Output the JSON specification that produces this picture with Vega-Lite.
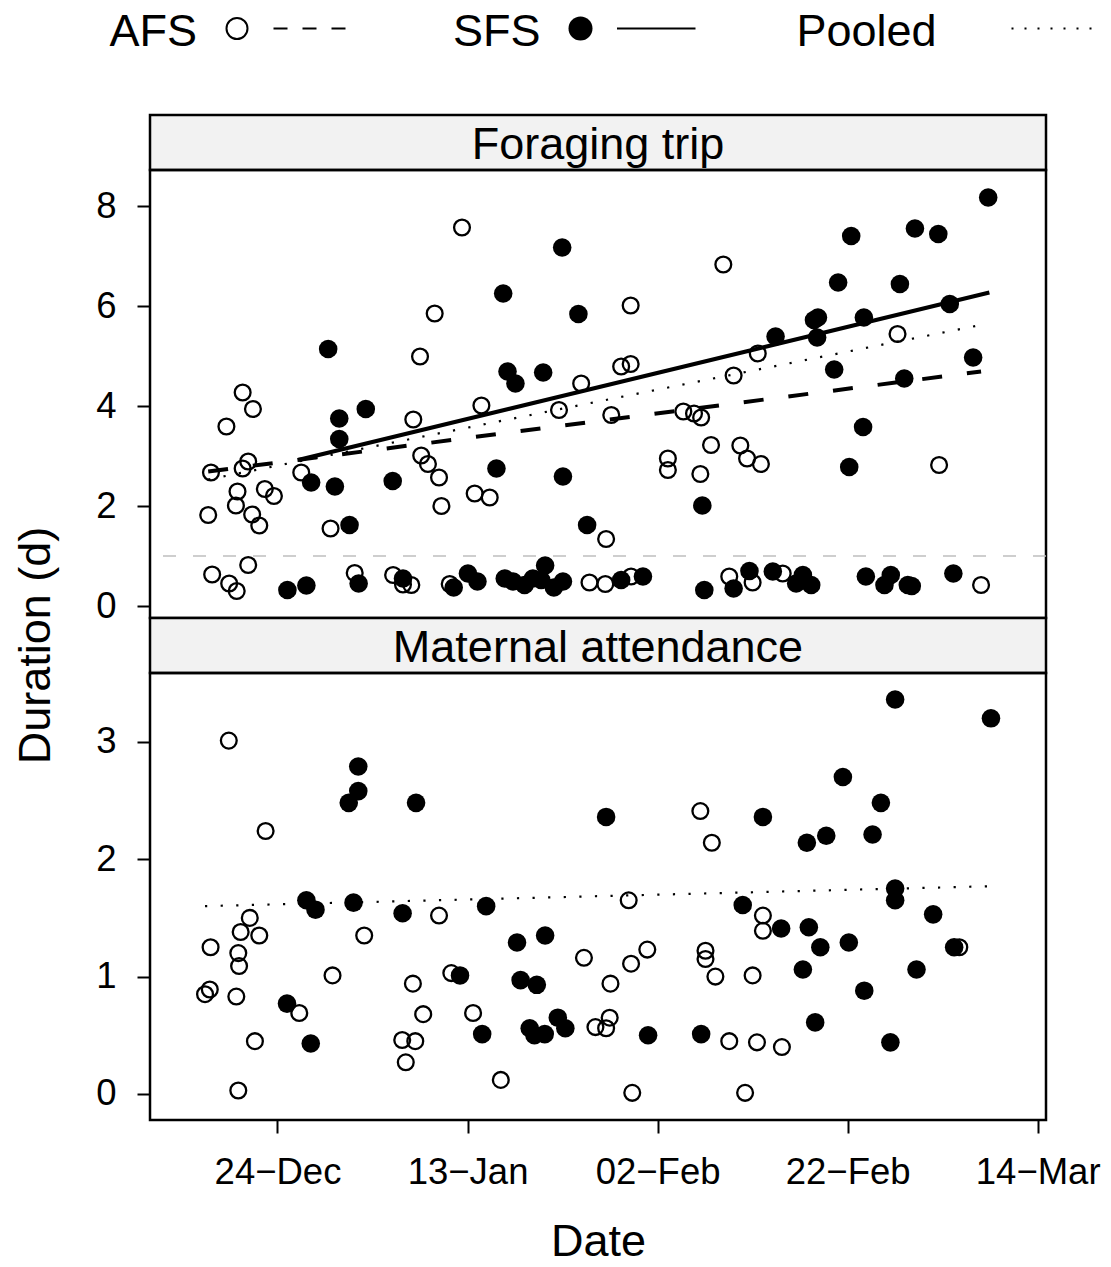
{
  "$schema": "https://vega.github.io/schema/vega-lite/v6.json",
  "padding": {"left": 12, "top": 0, "right": 5, "bottom": 0},
  "background": "white",
  "config": {
    "font": "Liberation Sans",
    "view": {"stroke": "black", "strokeWidth": 2.5},
    "axis": {"domain": false, "grid": false, "tickColor": "black", "tickWidth": 2, "tickSize": 13, "labelColor": "black", "labelFont": "Liberation Sans", "labelFontSize": 36.5, "labelPadding": 21, "labelFlush": false, "labelOverlap": false, "titleFont": "Liberation Sans", "titleFontSize": 45, "titleFontWeight": "normal", "titleColor": "black"},
    "text": {"font": "Liberation Sans", "fontSize": 45, "color": "black"}
  },
  "datasets": {
    "legend": [{"label": "AFS"}, {"label": "SFS"}, {"label": "Pooled"}],
    "panels": [{"panel": "Foraging trip"}, {"panel": "Maternal attendance"}],
    "threshold": [{"threshold": 1}],
    "lines": [
      {"panel": "Foraging trip", "group": "AFS", "date": "2010-12-16T17:00", "duration": 2.69},
      {"panel": "Foraging trip", "group": "AFS", "date": "2011-03-08T01:00", "duration": 4.69},
      {"panel": "Foraging trip", "group": "SFS", "date": "2010-12-26T04:00", "duration": 2.92},
      {"panel": "Foraging trip", "group": "SFS", "date": "2011-03-08T22:00", "duration": 6.27},
      {"panel": "Foraging trip", "group": "Pooled", "date": "2010-12-16T17:00", "duration": 2.53},
      {"panel": "Foraging trip", "group": "Pooled", "date": "2011-03-08T19:00", "duration": 5.65},
      {"panel": "Maternal attendance", "group": "Pooled", "date": "2010-12-16T09:00", "duration": 1.60},
      {"panel": "Maternal attendance", "group": "Pooled", "date": "2011-03-09T02:00", "duration": 1.77}
    ],
    "points": [
      {"panel": "Foraging trip", "group": "AFS", "date": "2011-01-09T13:00", "duration": 5.85},
      {"panel": "Foraging trip", "group": "AFS", "date": "2011-01-08T00:00", "duration": 4.99},
      {"panel": "Foraging trip", "group": "AFS", "date": "2010-12-20T08:00", "duration": 4.27},
      {"panel": "Foraging trip", "group": "AFS", "date": "2010-12-21T10:00", "duration": 3.94},
      {"panel": "Foraging trip", "group": "AFS", "date": "2010-12-18T15:00", "duration": 3.59},
      {"panel": "Foraging trip", "group": "AFS", "date": "2011-01-07T07:00", "duration": 3.73},
      {"panel": "Foraging trip", "group": "AFS", "date": "2010-12-17T00:00", "duration": 2.67},
      {"panel": "Foraging trip", "group": "AFS", "date": "2010-12-20T22:00", "duration": 2.89},
      {"panel": "Foraging trip", "group": "AFS", "date": "2010-12-20T08:00", "duration": 2.75},
      {"panel": "Foraging trip", "group": "AFS", "date": "2010-12-26T12:00", "duration": 2.67},
      {"panel": "Foraging trip", "group": "AFS", "date": "2011-01-08T03:00", "duration": 3.01},
      {"panel": "Foraging trip", "group": "AFS", "date": "2011-01-08T20:00", "duration": 2.84},
      {"panel": "Foraging trip", "group": "AFS", "date": "2011-01-10T00:00", "duration": 2.57},
      {"panel": "Foraging trip", "group": "AFS", "date": "2010-12-19T19:00", "duration": 2.29},
      {"panel": "Foraging trip", "group": "AFS", "date": "2010-12-22T16:00", "duration": 2.34},
      {"panel": "Foraging trip", "group": "AFS", "date": "2010-12-23T15:00", "duration": 2.20},
      {"panel": "Foraging trip", "group": "AFS", "date": "2010-12-19T15:00", "duration": 2.01},
      {"panel": "Foraging trip", "group": "AFS", "date": "2010-12-21T08:00", "duration": 1.83},
      {"panel": "Foraging trip", "group": "AFS", "date": "2010-12-22T02:00", "duration": 1.61},
      {"panel": "Foraging trip", "group": "AFS", "date": "2010-12-16T17:00", "duration": 1.82},
      {"panel": "Foraging trip", "group": "AFS", "date": "2011-01-10T06:00", "duration": 2.00},
      {"panel": "Foraging trip", "group": "AFS", "date": "2010-12-29T14:00", "duration": 1.55},
      {"panel": "Foraging trip", "group": "AFS", "date": "2010-12-17T03:00", "duration": 0.63},
      {"panel": "Foraging trip", "group": "AFS", "date": "2010-12-18T22:00", "duration": 0.45},
      {"panel": "Foraging trip", "group": "AFS", "date": "2010-12-19T17:00", "duration": 0.30},
      {"panel": "Foraging trip", "group": "AFS", "date": "2010-12-20T22:00", "duration": 0.82},
      {"panel": "Foraging trip", "group": "AFS", "date": "2011-01-01T03:00", "duration": 0.66},
      {"panel": "Foraging trip", "group": "AFS", "date": "2011-01-05T04:00", "duration": 0.62},
      {"panel": "Foraging trip", "group": "AFS", "date": "2011-01-06T05:00", "duration": 0.43},
      {"panel": "Foraging trip", "group": "AFS", "date": "2011-01-07T02:00", "duration": 0.42},
      {"panel": "Foraging trip", "group": "AFS", "date": "2011-01-11T03:00", "duration": 0.44},
      {"panel": "Foraging trip", "group": "AFS", "date": "2011-01-12T10:00", "duration": 7.57},
      {"panel": "Foraging trip", "group": "AFS", "date": "2011-01-30T04:00", "duration": 6.01},
      {"panel": "Foraging trip", "group": "AFS", "date": "2011-02-08T22:00", "duration": 6.83},
      {"panel": "Foraging trip", "group": "AFS", "date": "2011-01-29T04:00", "duration": 4.79},
      {"panel": "Foraging trip", "group": "AFS", "date": "2011-01-30T04:00", "duration": 4.84},
      {"panel": "Foraging trip", "group": "AFS", "date": "2011-02-10T00:00", "duration": 4.61},
      {"panel": "Foraging trip", "group": "AFS", "date": "2011-01-24T23:00", "duration": 4.45},
      {"panel": "Foraging trip", "group": "AFS", "date": "2011-01-14T11:00", "duration": 4.01},
      {"panel": "Foraging trip", "group": "AFS", "date": "2011-01-22T15:00", "duration": 3.92},
      {"panel": "Foraging trip", "group": "AFS", "date": "2011-01-28T03:00", "duration": 3.82},
      {"panel": "Foraging trip", "group": "AFS", "date": "2011-02-04T17:00", "duration": 3.89},
      {"panel": "Foraging trip", "group": "AFS", "date": "2011-02-05T20:00", "duration": 3.85},
      {"panel": "Foraging trip", "group": "AFS", "date": "2011-02-06T14:00", "duration": 3.77},
      {"panel": "Foraging trip", "group": "AFS", "date": "2011-01-13T18:00", "duration": 2.25},
      {"panel": "Foraging trip", "group": "AFS", "date": "2011-01-15T08:00", "duration": 2.17},
      {"panel": "Foraging trip", "group": "AFS", "date": "2011-02-03T02:00", "duration": 2.95},
      {"panel": "Foraging trip", "group": "AFS", "date": "2011-02-03T02:00", "duration": 2.72},
      {"panel": "Foraging trip", "group": "AFS", "date": "2011-02-07T15:00", "duration": 3.22},
      {"panel": "Foraging trip", "group": "AFS", "date": "2011-02-06T12:00", "duration": 2.64},
      {"panel": "Foraging trip", "group": "AFS", "date": "2011-02-10T17:00", "duration": 3.21},
      {"panel": "Foraging trip", "group": "AFS", "date": "2011-02-11T10:00", "duration": 2.95},
      {"panel": "Foraging trip", "group": "AFS", "date": "2011-02-12T21:00", "duration": 2.84},
      {"panel": "Foraging trip", "group": "AFS", "date": "2011-01-27T14:00", "duration": 1.34},
      {"panel": "Foraging trip", "group": "AFS", "date": "2011-01-25T20:00", "duration": 0.47},
      {"panel": "Foraging trip", "group": "AFS", "date": "2011-01-27T12:00", "duration": 0.44},
      {"panel": "Foraging trip", "group": "AFS", "date": "2011-01-30T05:00", "duration": 0.59},
      {"panel": "Foraging trip", "group": "AFS", "date": "2011-02-09T13:00", "duration": 0.59},
      {"panel": "Foraging trip", "group": "AFS", "date": "2011-02-12T00:00", "duration": 0.47},
      {"panel": "Foraging trip", "group": "AFS", "date": "2011-02-27T06:00", "duration": 5.44},
      {"panel": "Foraging trip", "group": "AFS", "date": "2011-02-12T13:00", "duration": 5.05},
      {"panel": "Foraging trip", "group": "AFS", "date": "2011-03-03T15:00", "duration": 2.82},
      {"panel": "Foraging trip", "group": "AFS", "date": "2011-02-15T04:00", "duration": 0.65},
      {"panel": "Foraging trip", "group": "AFS", "date": "2011-03-08T01:00", "duration": 0.42},
      {"panel": "Foraging trip", "group": "SFS", "date": "2010-12-29T08:00", "duration": 5.14},
      {"panel": "Foraging trip", "group": "SFS", "date": "2011-01-02T07:00", "duration": 3.94},
      {"panel": "Foraging trip", "group": "SFS", "date": "2010-12-30T12:00", "duration": 3.75},
      {"panel": "Foraging trip", "group": "SFS", "date": "2010-12-30T12:00", "duration": 3.34},
      {"panel": "Foraging trip", "group": "SFS", "date": "2010-12-27T13:00", "duration": 2.47},
      {"panel": "Foraging trip", "group": "SFS", "date": "2010-12-30T01:00", "duration": 2.39},
      {"panel": "Foraging trip", "group": "SFS", "date": "2011-01-05T03:00", "duration": 2.50},
      {"panel": "Foraging trip", "group": "SFS", "date": "2010-12-31T14:00", "duration": 1.62},
      {"panel": "Foraging trip", "group": "SFS", "date": "2010-12-25T01:00", "duration": 0.32},
      {"panel": "Foraging trip", "group": "SFS", "date": "2010-12-27T01:00", "duration": 0.41},
      {"panel": "Foraging trip", "group": "SFS", "date": "2011-01-01T13:00", "duration": 0.45},
      {"panel": "Foraging trip", "group": "SFS", "date": "2011-01-06T05:00", "duration": 0.55},
      {"panel": "Foraging trip", "group": "SFS", "date": "2011-01-11T13:00", "duration": 0.37},
      {"panel": "Foraging trip", "group": "SFS", "date": "2011-01-22T23:00", "duration": 7.17},
      {"panel": "Foraging trip", "group": "SFS", "date": "2011-01-16T18:00", "duration": 6.25},
      {"panel": "Foraging trip", "group": "SFS", "date": "2011-01-24T16:00", "duration": 5.84},
      {"panel": "Foraging trip", "group": "SFS", "date": "2011-01-17T05:00", "duration": 4.69},
      {"panel": "Foraging trip", "group": "SFS", "date": "2011-01-18T01:00", "duration": 4.45},
      {"panel": "Foraging trip", "group": "SFS", "date": "2011-01-20T23:00", "duration": 4.67},
      {"panel": "Foraging trip", "group": "SFS", "date": "2011-01-16T01:00", "duration": 2.75},
      {"panel": "Foraging trip", "group": "SFS", "date": "2011-01-23T01:00", "duration": 2.59},
      {"panel": "Foraging trip", "group": "SFS", "date": "2011-01-25T14:00", "duration": 1.62},
      {"panel": "Foraging trip", "group": "SFS", "date": "2011-02-06T17:00", "duration": 2.01},
      {"panel": "Foraging trip", "group": "SFS", "date": "2011-01-13T01:00", "duration": 0.65},
      {"panel": "Foraging trip", "group": "SFS", "date": "2011-01-14T01:00", "duration": 0.49},
      {"panel": "Foraging trip", "group": "SFS", "date": "2011-01-16T22:00", "duration": 0.55},
      {"panel": "Foraging trip", "group": "SFS", "date": "2011-01-17T19:00", "duration": 0.49},
      {"panel": "Foraging trip", "group": "SFS", "date": "2011-01-19T00:00", "duration": 0.42},
      {"panel": "Foraging trip", "group": "SFS", "date": "2011-01-19T21:00", "duration": 0.55},
      {"panel": "Foraging trip", "group": "SFS", "date": "2011-01-21T04:00", "duration": 0.81},
      {"panel": "Foraging trip", "group": "SFS", "date": "2011-01-20T18:00", "duration": 0.52},
      {"panel": "Foraging trip", "group": "SFS", "date": "2011-01-22T02:00", "duration": 0.37},
      {"panel": "Foraging trip", "group": "SFS", "date": "2011-01-23T01:00", "duration": 0.49},
      {"panel": "Foraging trip", "group": "SFS", "date": "2011-01-29T04:00", "duration": 0.52},
      {"panel": "Foraging trip", "group": "SFS", "date": "2011-01-31T11:00", "duration": 0.59},
      {"panel": "Foraging trip", "group": "SFS", "date": "2011-02-06T22:00", "duration": 0.32},
      {"panel": "Foraging trip", "group": "SFS", "date": "2011-02-10T00:00", "duration": 0.35},
      {"panel": "Foraging trip", "group": "SFS", "date": "2011-02-11T16:00", "duration": 0.70},
      {"panel": "Foraging trip", "group": "SFS", "date": "2011-03-08T19:00", "duration": 8.17},
      {"panel": "Foraging trip", "group": "SFS", "date": "2011-02-22T09:00", "duration": 7.40},
      {"panel": "Foraging trip", "group": "SFS", "date": "2011-03-01T02:00", "duration": 7.55},
      {"panel": "Foraging trip", "group": "SFS", "date": "2011-03-03T13:00", "duration": 7.44},
      {"panel": "Foraging trip", "group": "SFS", "date": "2011-02-21T00:00", "duration": 6.47},
      {"panel": "Foraging trip", "group": "SFS", "date": "2011-02-27T12:00", "duration": 6.44},
      {"panel": "Foraging trip", "group": "SFS", "date": "2011-03-04T18:00", "duration": 6.04},
      {"panel": "Foraging trip", "group": "SFS", "date": "2011-02-18T11:00", "duration": 5.72},
      {"panel": "Foraging trip", "group": "SFS", "date": "2011-02-18T21:00", "duration": 5.77},
      {"panel": "Foraging trip", "group": "SFS", "date": "2011-02-23T17:00", "duration": 5.77},
      {"panel": "Foraging trip", "group": "SFS", "date": "2011-02-14T10:00", "duration": 5.39},
      {"panel": "Foraging trip", "group": "SFS", "date": "2011-02-18T19:00", "duration": 5.37},
      {"panel": "Foraging trip", "group": "SFS", "date": "2011-03-07T05:00", "duration": 4.97},
      {"panel": "Foraging trip", "group": "SFS", "date": "2011-02-20T14:00", "duration": 4.73},
      {"panel": "Foraging trip", "group": "SFS", "date": "2011-02-27T23:00", "duration": 4.55},
      {"panel": "Foraging trip", "group": "SFS", "date": "2011-02-23T15:00", "duration": 3.58},
      {"panel": "Foraging trip", "group": "SFS", "date": "2011-02-22T04:00", "duration": 2.78},
      {"panel": "Foraging trip", "group": "SFS", "date": "2011-02-14T03:00", "duration": 0.69},
      {"panel": "Foraging trip", "group": "SFS", "date": "2011-02-16T14:00", "duration": 0.45},
      {"panel": "Foraging trip", "group": "SFS", "date": "2011-02-17T07:00", "duration": 0.62},
      {"panel": "Foraging trip", "group": "SFS", "date": "2011-02-18T04:00", "duration": 0.42},
      {"panel": "Foraging trip", "group": "SFS", "date": "2011-02-23T22:00", "duration": 0.59},
      {"panel": "Foraging trip", "group": "SFS", "date": "2011-02-25T21:00", "duration": 0.42},
      {"panel": "Foraging trip", "group": "SFS", "date": "2011-02-26T13:00", "duration": 0.62},
      {"panel": "Foraging trip", "group": "SFS", "date": "2011-02-28T08:00", "duration": 0.42},
      {"panel": "Foraging trip", "group": "SFS", "date": "2011-02-28T18:00", "duration": 0.40},
      {"panel": "Foraging trip", "group": "SFS", "date": "2011-03-05T03:00", "duration": 0.65},
      {"panel": "Maternal attendance", "group": "AFS", "date": "2010-12-18T21:00", "duration": 3.01},
      {"panel": "Maternal attendance", "group": "AFS", "date": "2010-12-22T18:00", "duration": 2.24},
      {"panel": "Maternal attendance", "group": "AFS", "date": "2010-12-21T02:00", "duration": 1.50},
      {"panel": "Maternal attendance", "group": "AFS", "date": "2010-12-20T03:00", "duration": 1.38},
      {"panel": "Maternal attendance", "group": "AFS", "date": "2010-12-22T02:00", "duration": 1.35},
      {"panel": "Maternal attendance", "group": "AFS", "date": "2010-12-16T23:00", "duration": 1.25},
      {"panel": "Maternal attendance", "group": "AFS", "date": "2010-12-19T21:00", "duration": 1.20},
      {"panel": "Maternal attendance", "group": "AFS", "date": "2010-12-19T23:00", "duration": 1.09},
      {"panel": "Maternal attendance", "group": "AFS", "date": "2010-12-16T09:00", "duration": 0.85},
      {"panel": "Maternal attendance", "group": "AFS", "date": "2010-12-16T21:00", "duration": 0.89},
      {"panel": "Maternal attendance", "group": "AFS", "date": "2010-12-19T16:00", "duration": 0.83},
      {"panel": "Maternal attendance", "group": "AFS", "date": "2010-12-26T07:00", "duration": 0.69},
      {"panel": "Maternal attendance", "group": "AFS", "date": "2010-12-21T15:00", "duration": 0.45},
      {"panel": "Maternal attendance", "group": "AFS", "date": "2010-12-19T21:00", "duration": 0.03},
      {"panel": "Maternal attendance", "group": "AFS", "date": "2011-01-02T03:00", "duration": 1.35},
      {"panel": "Maternal attendance", "group": "AFS", "date": "2010-12-29T19:00", "duration": 1.01},
      {"panel": "Maternal attendance", "group": "AFS", "date": "2011-01-10T00:00", "duration": 1.52},
      {"panel": "Maternal attendance", "group": "AFS", "date": "2011-01-07T06:00", "duration": 0.94},
      {"panel": "Maternal attendance", "group": "AFS", "date": "2011-01-08T08:00", "duration": 0.68},
      {"panel": "Maternal attendance", "group": "AFS", "date": "2011-01-06T03:00", "duration": 0.46},
      {"panel": "Maternal attendance", "group": "AFS", "date": "2011-01-07T12:00", "duration": 0.45},
      {"panel": "Maternal attendance", "group": "AFS", "date": "2011-01-06T12:00", "duration": 0.27},
      {"panel": "Maternal attendance", "group": "AFS", "date": "2011-01-11T07:00", "duration": 1.03},
      {"panel": "Maternal attendance", "group": "AFS", "date": "2011-02-06T12:00", "duration": 2.41},
      {"panel": "Maternal attendance", "group": "AFS", "date": "2011-02-07T17:00", "duration": 2.14},
      {"panel": "Maternal attendance", "group": "AFS", "date": "2011-01-29T23:00", "duration": 1.65},
      {"panel": "Maternal attendance", "group": "AFS", "date": "2011-01-25T06:00", "duration": 1.16},
      {"panel": "Maternal attendance", "group": "AFS", "date": "2011-01-31T22:00", "duration": 1.23},
      {"panel": "Maternal attendance", "group": "AFS", "date": "2011-01-30T05:00", "duration": 1.11},
      {"panel": "Maternal attendance", "group": "AFS", "date": "2011-01-28T01:00", "duration": 0.94},
      {"panel": "Maternal attendance", "group": "AFS", "date": "2011-02-07T01:00", "duration": 1.22},
      {"panel": "Maternal attendance", "group": "AFS", "date": "2011-02-07T01:00", "duration": 1.15},
      {"panel": "Maternal attendance", "group": "AFS", "date": "2011-02-08T02:00", "duration": 1.00},
      {"panel": "Maternal attendance", "group": "AFS", "date": "2011-02-12T00:00", "duration": 1.01},
      {"panel": "Maternal attendance", "group": "AFS", "date": "2011-01-13T14:00", "duration": 0.69},
      {"panel": "Maternal attendance", "group": "AFS", "date": "2011-01-16T12:00", "duration": 0.12},
      {"panel": "Maternal attendance", "group": "AFS", "date": "2011-01-26T11:00", "duration": 0.57},
      {"panel": "Maternal attendance", "group": "AFS", "date": "2011-01-27T23:00", "duration": 0.65},
      {"panel": "Maternal attendance", "group": "AFS", "date": "2011-01-27T14:00", "duration": 0.56},
      {"panel": "Maternal attendance", "group": "AFS", "date": "2011-01-30T08:00", "duration": 0.01},
      {"panel": "Maternal attendance", "group": "AFS", "date": "2011-02-09T13:00", "duration": 0.45},
      {"panel": "Maternal attendance", "group": "AFS", "date": "2011-02-12T11:00", "duration": 0.44},
      {"panel": "Maternal attendance", "group": "AFS", "date": "2011-02-11T05:00", "duration": 0.01},
      {"panel": "Maternal attendance", "group": "AFS", "date": "2011-02-13T02:00", "duration": 1.52},
      {"panel": "Maternal attendance", "group": "AFS", "date": "2011-02-13T02:00", "duration": 1.39},
      {"panel": "Maternal attendance", "group": "AFS", "date": "2011-02-15T02:00", "duration": 0.40},
      {"panel": "Maternal attendance", "group": "AFS", "date": "2011-03-05T18:00", "duration": 1.25},
      {"panel": "Maternal attendance", "group": "SFS", "date": "2011-01-01T12:00", "duration": 2.79},
      {"panel": "Maternal attendance", "group": "SFS", "date": "2011-01-01T12:00", "duration": 2.58},
      {"panel": "Maternal attendance", "group": "SFS", "date": "2010-12-31T12:00", "duration": 2.48},
      {"panel": "Maternal attendance", "group": "SFS", "date": "2011-01-07T14:00", "duration": 2.48},
      {"panel": "Maternal attendance", "group": "SFS", "date": "2010-12-27T01:00", "duration": 1.65},
      {"panel": "Maternal attendance", "group": "SFS", "date": "2010-12-28T00:00", "duration": 1.57},
      {"panel": "Maternal attendance", "group": "SFS", "date": "2011-01-01T00:00", "duration": 1.63},
      {"panel": "Maternal attendance", "group": "SFS", "date": "2011-01-06T04:00", "duration": 1.54},
      {"panel": "Maternal attendance", "group": "SFS", "date": "2010-12-25T00:00", "duration": 0.77},
      {"panel": "Maternal attendance", "group": "SFS", "date": "2010-12-27T12:00", "duration": 0.43},
      {"panel": "Maternal attendance", "group": "SFS", "date": "2011-01-12T05:00", "duration": 1.01},
      {"panel": "Maternal attendance", "group": "SFS", "date": "2011-01-27T14:00", "duration": 2.36},
      {"panel": "Maternal attendance", "group": "SFS", "date": "2011-01-14T23:00", "duration": 1.60},
      {"panel": "Maternal attendance", "group": "SFS", "date": "2011-02-10T23:00", "duration": 1.61},
      {"panel": "Maternal attendance", "group": "SFS", "date": "2011-01-18T05:00", "duration": 1.29},
      {"panel": "Maternal attendance", "group": "SFS", "date": "2011-01-21T04:00", "duration": 1.35},
      {"panel": "Maternal attendance", "group": "SFS", "date": "2011-01-18T14:00", "duration": 0.97},
      {"panel": "Maternal attendance", "group": "SFS", "date": "2011-01-20T07:00", "duration": 0.93},
      {"panel": "Maternal attendance", "group": "SFS", "date": "2011-01-14T13:00", "duration": 0.51},
      {"panel": "Maternal attendance", "group": "SFS", "date": "2011-01-19T13:00", "duration": 0.56},
      {"panel": "Maternal attendance", "group": "SFS", "date": "2011-01-20T01:00", "duration": 0.50},
      {"panel": "Maternal attendance", "group": "SFS", "date": "2011-01-21T03:00", "duration": 0.51},
      {"panel": "Maternal attendance", "group": "SFS", "date": "2011-01-22T12:00", "duration": 0.65},
      {"panel": "Maternal attendance", "group": "SFS", "date": "2011-01-23T07:00", "duration": 0.56},
      {"panel": "Maternal attendance", "group": "SFS", "date": "2011-02-01T00:00", "duration": 0.50},
      {"panel": "Maternal attendance", "group": "SFS", "date": "2011-02-06T14:00", "duration": 0.51},
      {"panel": "Maternal attendance", "group": "SFS", "date": "2011-02-27T00:00", "duration": 3.36},
      {"panel": "Maternal attendance", "group": "SFS", "date": "2011-03-09T02:00", "duration": 3.20},
      {"panel": "Maternal attendance", "group": "SFS", "date": "2011-02-21T12:00", "duration": 2.70},
      {"panel": "Maternal attendance", "group": "SFS", "date": "2011-02-25T12:00", "duration": 2.48},
      {"panel": "Maternal attendance", "group": "SFS", "date": "2011-02-13T02:00", "duration": 2.36},
      {"panel": "Maternal attendance", "group": "SFS", "date": "2011-02-17T17:00", "duration": 2.14},
      {"panel": "Maternal attendance", "group": "SFS", "date": "2011-02-19T18:00", "duration": 2.20},
      {"panel": "Maternal attendance", "group": "SFS", "date": "2011-02-24T15:00", "duration": 2.21},
      {"panel": "Maternal attendance", "group": "SFS", "date": "2011-02-27T00:00", "duration": 1.75},
      {"panel": "Maternal attendance", "group": "SFS", "date": "2011-02-27T00:00", "duration": 1.65},
      {"panel": "Maternal attendance", "group": "SFS", "date": "2011-03-03T00:00", "duration": 1.53},
      {"panel": "Maternal attendance", "group": "SFS", "date": "2011-02-15T00:00", "duration": 1.41},
      {"panel": "Maternal attendance", "group": "SFS", "date": "2011-02-17T22:00", "duration": 1.42},
      {"panel": "Maternal attendance", "group": "SFS", "date": "2011-02-19T03:00", "duration": 1.25},
      {"panel": "Maternal attendance", "group": "SFS", "date": "2011-02-22T03:00", "duration": 1.29},
      {"panel": "Maternal attendance", "group": "SFS", "date": "2011-03-05T05:00", "duration": 1.25},
      {"panel": "Maternal attendance", "group": "SFS", "date": "2011-02-17T07:00", "duration": 1.06},
      {"panel": "Maternal attendance", "group": "SFS", "date": "2011-03-01T06:00", "duration": 1.06},
      {"panel": "Maternal attendance", "group": "SFS", "date": "2011-02-23T18:00", "duration": 0.88},
      {"panel": "Maternal attendance", "group": "SFS", "date": "2011-02-18T14:00", "duration": 0.61},
      {"panel": "Maternal attendance", "group": "SFS", "date": "2011-02-26T12:00", "duration": 0.44}
    ]
  },
  "bounds": "flush",
  "spacing": 58,
  "vconcat": [
    {
      "width": 687,
      "height": 57,
      "view": {"stroke": null},
      "data": {"name": "legend"},
      "encoding": {
        "x": {"field": "label", "type": "nominal", "scale": {"type": "point", "domain": ["AFS", "SFS", "Pooled"], "padding": 0}, "axis": null}
      },
      "layer": [
        {"mark": {"type": "text", "align": "left", "baseline": "middle", "xOffset": -40.5, "dy": 3, "fontSize": 45}, "encoding": {"text": {"field": "label"}}},
        {"transform": [{"filter": "datum.label === 'AFS'"}], "mark": {"type": "point", "shape": "circle", "filled": false, "color": "black", "strokeWidth": 2, "size": 441, "opacity": 1, "xOffset": 87}},
        {"transform": [{"filter": "datum.label === 'SFS'"}], "mark": {"type": "point", "shape": "circle", "filled": true, "color": "black", "strokeWidth": 0, "size": 576, "opacity": 1, "xOffset": 87}},
        {"transform": [{"filter": "datum.label === 'AFS'"}], "mark": {"type": "rule", "color": "black", "strokeWidth": 2, "strokeDash": [14, 15], "xOffset": 123.5, "x2Offset": 199.5}, "encoding": {"x2": {"field": "label"}}},
        {"transform": [{"filter": "datum.label === 'SFS'"}], "mark": {"type": "rule", "color": "black", "strokeWidth": 2.2, "xOffset": 123.5, "x2Offset": 202}, "encoding": {"x2": {"field": "label"}}},
        {"transform": [{"filter": "datum.label === 'Pooled'"}], "mark": {"type": "rule", "color": "black", "strokeWidth": 2, "strokeDash": [2, 11], "xOffset": 174.5, "x2Offset": 256}, "encoding": {"x2": {"field": "label"}}}
      ]
    },
    {
      "bounds": "flush",
      "spacing": 0,
      "vconcat": [
        {
          "width": 896,
          "height": 55,
          "view": {"fill": "#f2f2f2", "stroke": "black", "strokeWidth": 2.5},
          "data": {"name": "panels"},
          "transform": [{"filter": "datum.panel === 'Foraging trip'"}],
          "mark": {"type": "text", "fontSize": 45, "baseline": "middle", "dy": 2},
          "encoding": {"text": {"field": "panel"}}
        },
        {
          "width": 896,
          "height": 448,
          "layer": [
            {
              "data": {"name": "threshold"},
              "mark": {"type": "rule", "color": "#bfbfbf", "strokeWidth": 1.5, "strokeDash": [13, 17]},
              "encoding": {
                "y": {"field": "threshold", "type": "quantitative", "scale": {"domain": [-0.24, 8.72], "nice": false, "zero": false}, "axis": {"values": [0, 2, 4, 6, 8], "format": "d", "title": null}}
              }
            },
            {
              "data": {"name": "points"},
              "transform": [{"filter": "datum.panel === 'Foraging trip' && datum.group === 'AFS'"}],
              "mark": {"type": "point", "shape": "circle", "filled": false, "color": "black", "strokeWidth": 2.3, "size": 250, "opacity": 1},
              "encoding": {
                "x": {"field": "date", "type": "temporal", "scale": {"domain": [{"year": 2010, "month": 12, "date": 10, "hours": 14}, {"year": 2011, "month": 3, "date": 14, "hours": 21}], "nice": false}, "axis": null},
                "y": {"field": "duration", "type": "quantitative", "scale": {"domain": [-0.24, 8.72], "nice": false, "zero": false}, "axis": {"values": [0, 2, 4, 6, 8], "format": "d", "title": null}}
              }
            },
            {
              "data": {"name": "points"},
              "transform": [{"filter": "datum.panel === 'Foraging trip' && datum.group === 'SFS'"}],
              "mark": {"type": "point", "shape": "circle", "filled": true, "color": "black", "strokeWidth": 0, "size": 345, "opacity": 1},
              "encoding": {
                "x": {"field": "date", "type": "temporal", "scale": {"domain": [{"year": 2010, "month": 12, "date": 10, "hours": 14}, {"year": 2011, "month": 3, "date": 14, "hours": 21}], "nice": false}, "axis": null},
                "y": {"field": "duration", "type": "quantitative", "scale": {"domain": [-0.24, 8.72], "nice": false, "zero": false}, "axis": {"values": [0, 2, 4, 6, 8], "format": "d", "title": null}}
              }
            },
            {
              "data": {"name": "lines"},
              "transform": [{"filter": "datum.panel === 'Foraging trip' && datum.group === 'AFS'"}],
              "mark": {"type": "line", "color": "black", "strokeWidth": 4, "strokeDash": [20, 25]},
              "encoding": {
                "x": {"field": "date", "type": "temporal", "scale": {"domain": [{"year": 2010, "month": 12, "date": 10, "hours": 14}, {"year": 2011, "month": 3, "date": 14, "hours": 21}], "nice": false}, "axis": null},
                "y": {"field": "duration", "type": "quantitative", "scale": {"domain": [-0.24, 8.72], "nice": false, "zero": false}, "axis": {"values": [0, 2, 4, 6, 8], "format": "d", "title": null}}
              }
            },
            {
              "data": {"name": "lines"},
              "transform": [{"filter": "datum.panel === 'Foraging trip' && datum.group === 'SFS'"}],
              "mark": {"type": "line", "color": "black", "strokeWidth": 4},
              "encoding": {
                "x": {"field": "date", "type": "temporal", "scale": {"domain": [{"year": 2010, "month": 12, "date": 10, "hours": 14}, {"year": 2011, "month": 3, "date": 14, "hours": 21}], "nice": false}, "axis": null},
                "y": {"field": "duration", "type": "quantitative", "scale": {"domain": [-0.24, 8.72], "nice": false, "zero": false}, "axis": {"values": [0, 2, 4, 6, 8], "format": "d", "title": null}}
              }
            },
            {
              "data": {"name": "lines"},
              "transform": [{"filter": "datum.panel === 'Foraging trip' && datum.group === 'Pooled'"}],
              "mark": {"type": "line", "color": "black", "strokeWidth": 2.2, "strokeDash": [2.2, 13.4]},
              "encoding": {
                "x": {"field": "date", "type": "temporal", "scale": {"domain": [{"year": 2010, "month": 12, "date": 10, "hours": 14}, {"year": 2011, "month": 3, "date": 14, "hours": 21}], "nice": false}, "axis": null},
                "y": {"field": "duration", "type": "quantitative", "scale": {"domain": [-0.24, 8.72], "nice": false, "zero": false}, "axis": {"values": [0, 2, 4, 6, 8], "format": "d", "title": null}}
              }
            }
          ]
        },
        {
          "width": 896,
          "height": 55,
          "view": {"fill": "#f2f2f2", "stroke": "black", "strokeWidth": 2.5},
          "data": {"name": "panels"},
          "transform": [{"filter": "datum.panel === 'Maternal attendance'"}],
          "mark": {"type": "text", "fontSize": 45, "baseline": "middle", "dy": 2},
          "encoding": {"text": {"field": "panel"}}
        },
        {
          "width": 896,
          "height": 447,
          "layer": [
            {
              "data": {"name": "points"},
              "transform": [{"filter": "datum.panel === 'Maternal attendance' && datum.group === 'AFS'"}],
              "mark": {"type": "point", "shape": "circle", "filled": false, "color": "black", "strokeWidth": 2.3, "size": 250, "opacity": 1},
              "encoding": {
                "x": {"field": "date", "type": "temporal", "scale": {"domain": [{"year": 2010, "month": 12, "date": 10, "hours": 14}, {"year": 2011, "month": 3, "date": 14, "hours": 21}], "nice": false}, "axis": {"values": [{"year": 2010, "month": 12, "date": 24}, {"year": 2011, "month": 1, "date": 13}, {"year": 2011, "month": 2, "date": 2}, {"year": 2011, "month": 2, "date": 22}, {"year": 2011, "month": 3, "date": 14}], "format": "%d−%b", "title": "Date", "titlePadding": 29}},
                "y": {"field": "duration", "type": "quantitative", "scale": {"domain": [-0.2215, 3.586], "nice": false, "zero": false}, "axis": {"values": [0, 1, 2, 3], "format": "d", "title": "Duration (d)", "titleX": -100.5, "titleY": -28, "titleAngle": 270, "titleAlign": "center", "titleBaseline": "alphabetic"}}
              }
            },
            {
              "data": {"name": "points"},
              "transform": [{"filter": "datum.panel === 'Maternal attendance' && datum.group === 'SFS'"}],
              "mark": {"type": "point", "shape": "circle", "filled": true, "color": "black", "strokeWidth": 0, "size": 345, "opacity": 1},
              "encoding": {
                "x": {"field": "date", "type": "temporal", "scale": {"domain": [{"year": 2010, "month": 12, "date": 10, "hours": 14}, {"year": 2011, "month": 3, "date": 14, "hours": 21}], "nice": false}},
                "y": {"field": "duration", "type": "quantitative", "scale": {"domain": [-0.2215, 3.586], "nice": false, "zero": false}}
              }
            },
            {
              "data": {"name": "lines"},
              "transform": [{"filter": "datum.panel === 'Maternal attendance' && datum.group === 'Pooled'"}],
              "mark": {"type": "line", "color": "black", "strokeWidth": 2.2, "strokeDash": [2.2, 13.4]},
              "encoding": {
                "x": {"field": "date", "type": "temporal", "scale": {"domain": [{"year": 2010, "month": 12, "date": 10, "hours": 14}, {"year": 2011, "month": 3, "date": 14, "hours": 21}], "nice": false}},
                "y": {"field": "duration", "type": "quantitative", "scale": {"domain": [-0.2215, 3.586], "nice": false, "zero": false}}
              }
            }
          ]
        }
      ]
    }
  ]
}
